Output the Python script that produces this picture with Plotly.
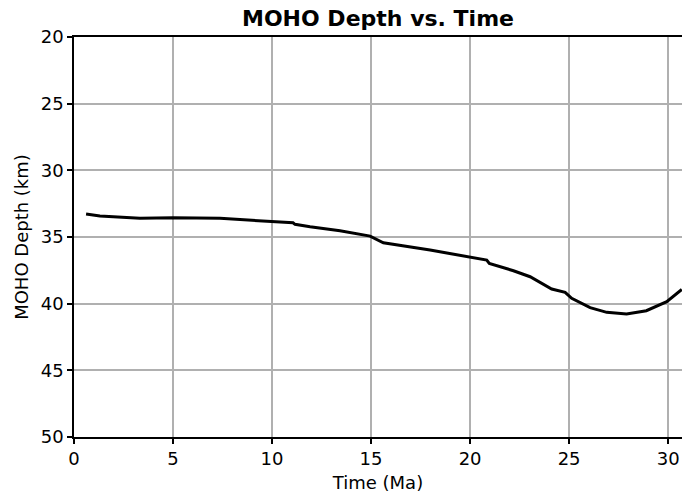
import plotly.graph_objects as go

# MOHO depth (time in Ma, depth in km)
time_ma = [0.61, 1.31, 3.33, 5.0, 7.37, 8.38, 10.05, 11.06, 11.16, 11.92, 13.43,
           14.95, 15.62, 17.98, 20.84, 20.97, 22.19, 23.03, 24.12, 24.8, 25.13,
           26.06, 26.9, 27.9, 28.9, 29.93, 30.69]
moho_depth = [33.28, 33.43, 33.6, 33.55, 33.6, 33.68, 33.86, 33.93, 34.05, 34.23, 34.53,
              34.93, 35.43, 35.98, 36.73, 36.98, 37.53, 37.98, 38.9, 39.15, 39.6,
              40.3, 40.65, 40.78, 40.53, 39.85, 38.93]

x_ticks = [0, 5, 10, 15, 20, 25, 30]
y_ticks = [20, 25, 30, 35, 40, 45, 50]

font_family = "DejaVu Sans"
W, H = 682, 495

fig = go.Figure()
fig.add_trace(go.Scatter(
    x=time_ma, y=moho_depth, mode="lines",
    line=dict(color="black", width=3),
    showlegend=False,
))

fig.update_layout(
    width=W, height=H,
    margin=dict(l=74, r=0, t=37, b=58, autoexpand=False),
    paper_bgcolor="white", plot_bgcolor="white",
    font=dict(family=font_family, size=18, color="black"),
    title=dict(
        text="<b>MOHO Depth vs. Time</b>",
        x=(74 + W) / 2 / W, xanchor="center",
        y=1 - 18 / H, yanchor="middle",
        font=dict(size=22, family=font_family, color="black"),
    ),
)

fig.update_xaxes(
    range=[0, 30.7], tickvals=x_ticks, automargin=False,
    title=dict(text="Time (Ma)", standoff=8, font=dict(size=18)),
    showgrid=True, gridcolor="#b0b0b0", gridwidth=1.5,
    showline=True, linecolor="black", linewidth=1.5, mirror=True,
    ticks="outside", ticklen=5, tickwidth=1.5, tickcolor="black",
    zeroline=False,
)
fig.update_yaxes(
    range=[50, 20], tickvals=y_ticks, automargin=False,
    title=dict(text="MOHO Depth (km)", standoff=7, font=dict(size=18)),
    showgrid=True, gridcolor="#b0b0b0", gridwidth=1.5,
    showline=True, linecolor="black", linewidth=1.5,
    ticks="outside", ticklen=5, tickwidth=1.5, tickcolor="black",
    zeroline=False,
)

# drop the default 8px body margin so the figure fills the window exactly
fig.write_html("out.html", config={"displayModeBar": False},
               post_script="document.body.style.margin='0';document.body.style.overflow='hidden';")
